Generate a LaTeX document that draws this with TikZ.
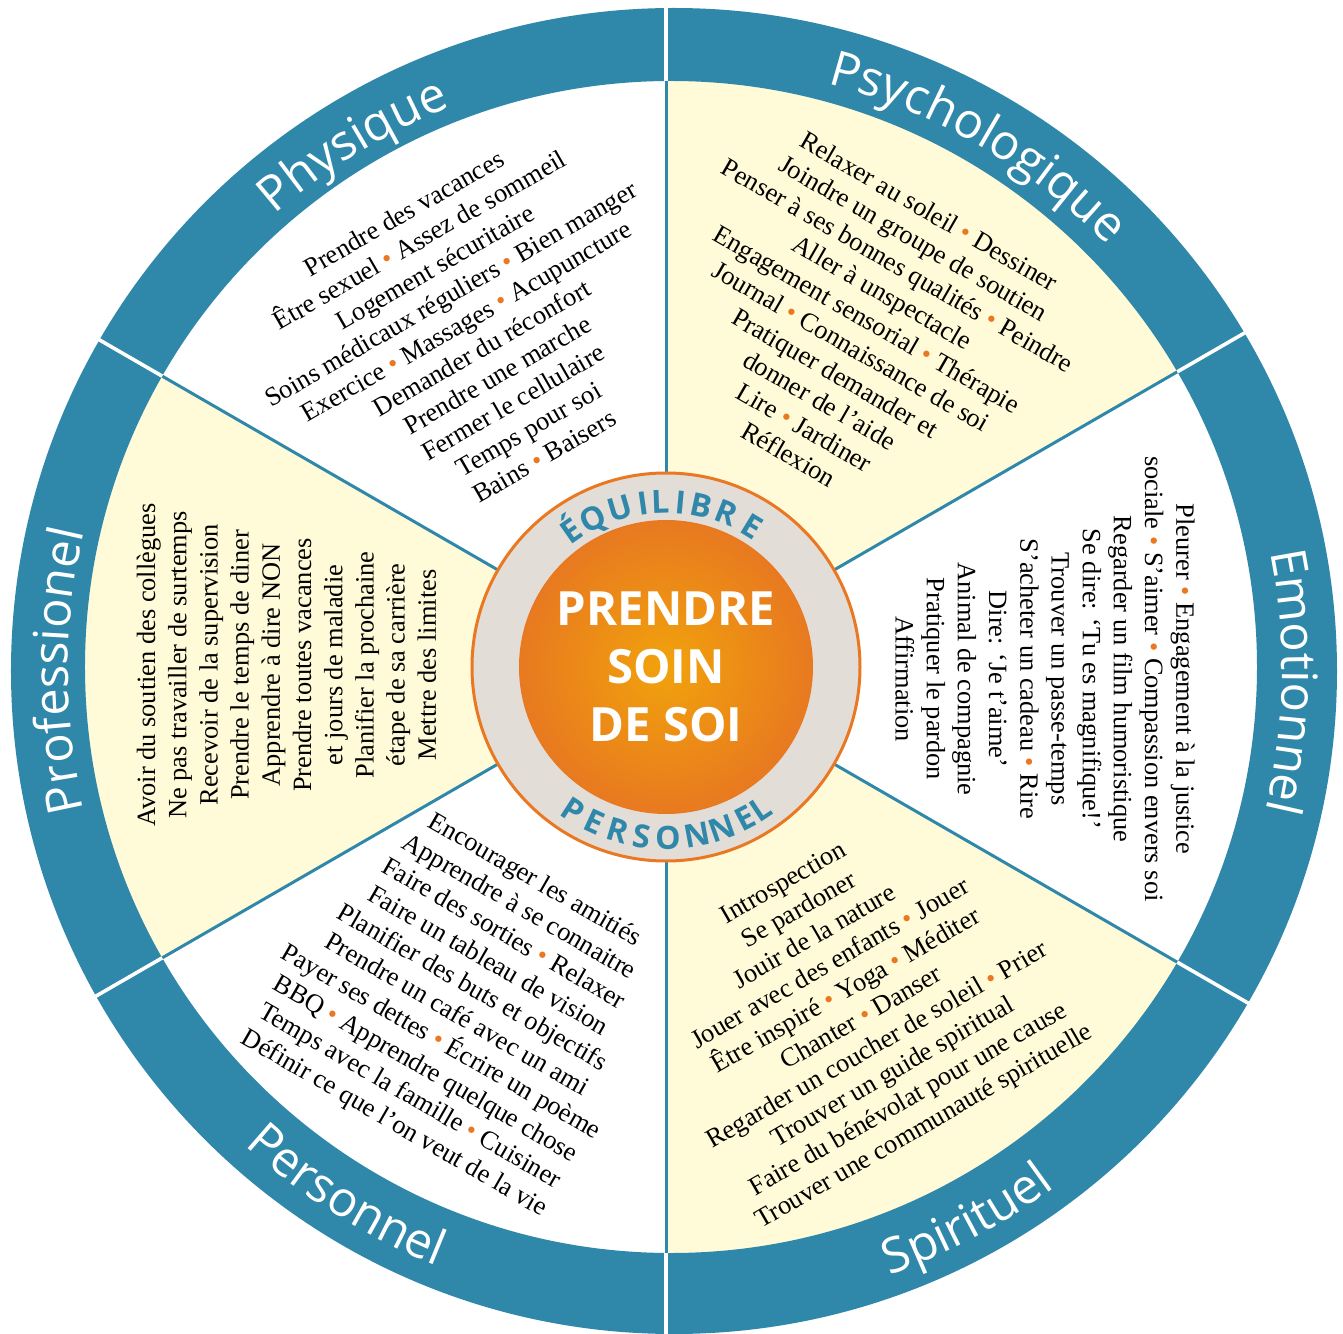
\documentclass[tikz,border=0pt]{standalone}
\usepackage{fontspec}
\setmainfont{Liberation Serif}
\newfontfamily\labelfont{Open Sans}
\usetikzlibrary{decorations.text}
\definecolor{ringblue}{RGB}{47,135,170}
\definecolor{sectyellow}{RGB}{255,251,216}
\definecolor{ringgray}{RGB}{227,221,216}
\definecolor{dotorange}{RGB}{234,120,34}
\definecolor{coreout}{RGB}{232,121,32}
\definecolor{corein}{RGB}{241,162,12}
\newcommand{\bu}{\textcolor{dotorange}{\textbullet}}
\newcommand{\ringfont}{\labelfont\fontsize{24.4}{28}\selectfont\color{white}}
\tikzset{
  bodytext/.style={align=center, inner sep=0pt, font=\fontsize{13.2}{15.6}\selectfont},
  eqletter/.style={inner sep=0pt, anchor=base, text=ringblue, font=\labelfont\bfseries\fontsize{16}{18}\selectfont},
  ringtext/.style={decorate, decoration={text along path, text align=center, text={#1}}},
  divider/.style={ringblue, line width=1.5pt},
  gapline/.style={white, line width=1.8pt},
}
\begin{document}
\begin{tikzpicture}[x=0.5pt,y=0.5pt]
\useasboundingbox (-666,-666) rectangle (677,667);
\fill[white] (-666,-666) rectangle (677,667);
% sectors
\foreach \a in {30,150,270}
  \fill[sectyellow] (0,0) -- (\a:600) arc[start angle=\a, end angle=\a+60, radius=600] -- cycle;
\foreach \a in {30,90,...,330}
  \draw[divider] (\a:190) -- (\a:592);
% outer ring
\fill[ringblue, even odd rule] (8,-4) circle[radius=663] (5,0) circle[radius=586];
\foreach \a in {30,90,...,330}
  \draw[gapline] (\a:{586+5*cos(\a)}) -- (\a:700);
% centre
\fill[ringgray, draw=dotorange, line width=1.5pt] (0,0) circle[radius=194];
\shade[inner color=corein, outer color=coreout] (0,0) circle[radius=147];
\node[text=white, align=center, inner sep=0pt, font=\labelfont\bfseries\fontsize{23.6}{29}\selectfont] (core) at (0,0) {PRENDRE\\SOIN\\DE SOI};
\foreach \l/\ang [count=\i] in {É/124.9, Q/116.3, U/106.2, I/98, L/92, I/84.8, B/77.7, R/68.4, E/58.5}
  \node[eqletter, rotate=\ang-90] (eq\i) at (\ang:154) {\l};
\foreach \l/\ang [count=\i] in {P/-123, E/-114.8, R/-106.5, S/-98, O/-89.3, N/-79.5, N/-70.7, E/-62.4, L/-56.4}
  \node[eqletter, rotate=\ang+90] (pe\i) at (\ang:182) {\l};
% ring labels
\path[shift={(9,-4)}, ringtext={|\ringfont|Physique}] (151.5:607) arc[start angle=151.5, end angle=91.5, radius=607];
\path[shift={(9,-4)}, ringtext={|\ringfont|Psychologique}] (90:607) arc[start angle=90, end angle=30, radius=607];
\path[shift={(9,-4)}, ringtext={|\ringfont|Emotionnel}] (29:607) arc[start angle=29, end angle=-31, radius=607];
\path[shift={(9,-4)}, ringtext={|\ringfont|Professionel}] (210:607) arc[start angle=210, end angle=150, radius=607];
\path[shift={(9,-4)}, ringtext={|\ringfont|Spirituel}] (-92:641) arc[start angle=-92, end angle=-32, radius=641];
\path[shift={(9,-4)}, ringtext={|\ringfont|Personnel}] (-152:641) arc[start angle=-152, end angle=-92, radius=641];
% sector texts
\node[bodytext, rotate=30] (physique) at (120:384) {Prendre des vacances\\
Être sexuel \bu{} Assez de sommeil\\
Logement sécuritaire\\
Soins médicaux réguliers \bu{} Bien manger\\
Exercice \bu{} Massages \bu{} Acupuncture\\
Demander du réconfort\\
Prendre une marche\\
Fermer le cellulaire\\
Temps pour soi\\
Bains \bu{} Baisers};
\node[bodytext, rotate=-30] (psycho) at (60:386) {Relaxer au soleil \bu{} Dessiner\\
Joindre un groupe de soutien\\
Penser à ses bonnes qualités \bu{} Peindre\\
Aller à unspectacle\\
Engagement sensorial \bu{} Thérapie\\
Journal \bu{} Connaissance de soi\\
Pratiquer demander et\\
donner de l’aide\\
Lire \bu{} Jardiner\\
Réflexion};
\node[bodytext, rotate=-90] (emotion) at (379,-12) {Pleurer \bu{} Engagement à la justice\\
sociale \bu{} S’aimer \bu{} Compassion envers soi\\
Regarder un film humoristique\\
Se dire: ‘Tu es magnifique!’\\
Trouver un passe-temps\\
S’acheter un cadeau \bu{} Rire\\
Dire: ‘Je t’aime’\\
Animal de compagnie\\
Pratiquer le pardon\\
Affirmation};
\node[bodytext, rotate=30] (spirit) at (188.5,-339) {Introspection\\
Se pardoner\\
Jouir de la nature\\
Jouer avec des enfants \bu{} Jouer\\
Être inspiré \bu{} Yoga \bu{} Méditer\\
Chanter \bu{} Danser\\
Regarder un coucher de soleil \bu{} Prier\\
Trouver un guide spiritual\\
Faire du bénévolat pour une cause\\
Trouver une communauté spirituelle};
\node[bodytext, rotate=-30] (personal) at (-202,-335.5) {Encourager les amitiés\\
Apprendre à se connaitre\\
Faire des sorties \bu{} Relaxer\\
Faire un tableau de vision\\
Planifier des buts et objectifs\\
Prendre un café avec un ami\\
Payer ses dettes \bu{} Écrire un poème\\
BBQ \bu{} Apprendre quelque chose\\
Temps avec la famille \bu{} Cuisiner\\
Définir ce que l’on veut de la vie};
\node[bodytext, rotate=90] (profession) at (-379.5,2) {Avoir du soutien des collègues\\
Ne pas travailler de surtemps\\
Recevoir de la supervision\\
Prendre le temps de diner\\
Apprendre à dire NON\\
Prendre toutes vacances\\
et jours de maladie\\
Planifier la prochaine\\
étape de sa carrière\\
Mettre des limites};
\end{tikzpicture}
\end{document}
